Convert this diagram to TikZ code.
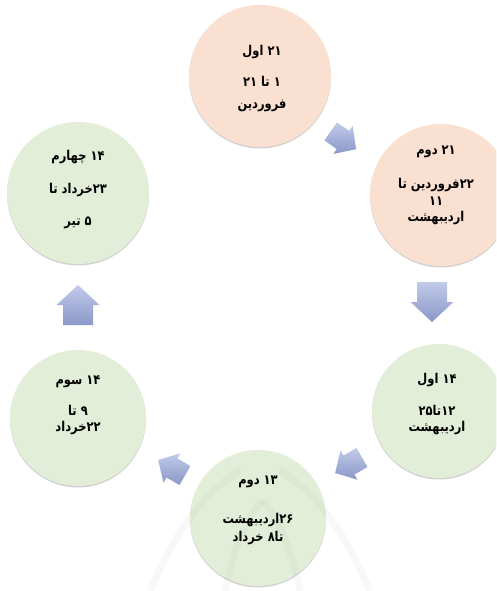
\documentclass[tikz,border=0pt]{standalone}
\usepackage{fontspec}
\newfontfamily\fa[Script=Arabic,FakeStretch=0.85]{DejaVu Sans}
\TeXXeTstate=1
\usetikzlibrary{shadows}
\definecolor{peach}{HTML}{FAE0D0}
\definecolor{mint}{HTML}{E2EED8}
\definecolor{arrowtop}{HTML}{C2CBEA}
\definecolor{arrowbot}{HTML}{8A97C8}
\tikzset{
  disc/.style={circle, minimum size=#1, inner sep=0pt,
    drop shadow={shadow xshift=0pt, shadow yshift=-1.5pt, opacity=0.35, fill=gray}},
  txt/.style={font=\fa\bfseries\fontsize{13.5}{15}\selectfont, inner sep=0pt, text=black},
  wmark/.style={line width=7pt, draw=gray, opacity=0.05},
  blockarrow/.pic={
    \shade[rotate=#1, top color=arrowtop, bottom color=arrowbot]
      (-20pt,-15pt) -- (0pt,-15pt) -- (0pt,-21.5pt) -- (20pt,0pt)
      -- (0pt,21.5pt) -- (0pt,15pt) -- (-20pt,15pt) -- cycle;
  },
  smallarrow/.pic={
    \shade[rotate=#1, top color=arrowtop, bottom color=arrowbot]
      (-15pt,-11pt) -- (0pt,-11pt) -- (0pt,-17pt) -- (16pt,0pt)
      -- (0pt,17pt) -- (0pt,11pt) -- (-15pt,11pt) -- cycle;
  }
}
\begin{document}
\begin{tikzpicture}[x=1pt,y=-1pt]
\useasboundingbox (0,0) rectangle (496,591);
\fill[white] (0,0) rectangle (496,591);
\clip (0,0) rectangle (496,591);

% circles
\node[disc=142, fill=peach] (a) at (260,76) {};
\node[disc=142, fill=peach] (b) at (441,195) {};
\node[disc=134, fill=mint] (c) at (439,411) {};
\node[disc=136, fill=mint] (d) at (258,518) {};
\node[disc=136, fill=mint] (e) at (78,418) {};
\node[disc=142, fill=mint] (f) at (78,193) {};

% faint watermark arcs
\draw[wmark] (150,591) .. controls (180,520) and (210,490) .. (240,470);
\draw[wmark] (370,591) .. controls (340,520) and (310,490) .. (280,470);
\draw[wmark] (225,591) .. controls (235,540) and (250,515) .. (262,500);
\draw[wmark] (300,591) .. controls (290,540) and (275,515) .. (262,500);

% texts
\node[txt] (a1) at (262,52) {\beginR ۲۱ اول\endR};
\node[txt] (a2) at (262,81) {\beginR ۱ تا ۲۱\endR};
\node[txt] (a3) at (262,106) {\beginR فروردین\endR};

\node[txt] (b1) at (436,152) {\beginR ۲۱ دوم\endR};
\node[txt] (b2) at (436,185) {\beginR ۲۲\kern0pt فروردین تا\endR};
\node[txt] (b3) at (436,201) {\beginR ۱۱\endR};
\node[txt] (b4) at (436,218) {\beginR اردیبهشت\endR};

\node[txt] (c1) at (437,380) {\beginR ۱۴ اول\endR};
\node[txt] (c2) at (437,410) {\beginR ۱۲\kern0pt تا\kern0pt ۲۵\endR};
\node[txt] (c3) at (437,428) {\beginR اردیبهشت\endR};

\node[txt] (d1) at (258,482) {\beginR ۱۳ دوم\endR};
\node[txt] (d2) at (258,520) {\beginR ۲۶\kern0pt اردیبهشت\endR};
\node[txt] (d3) at (258,538) {\beginR تا\kern0pt ۸ خرداد\endR};

\node[txt] (e1) at (78,382) {\beginR ۱۴ سوم\endR};
\node[txt] (e2) at (78,410) {\beginR ۹ تا\endR};
\node[txt] (e3) at (78,428) {\beginR ۲۲\kern0pt خرداد\endR};

\node[txt] (f1) at (78,157) {\beginR ۱۴ چهارم\endR};
\node[txt] (f2) at (78,190) {\beginR ۲۳\kern0pt خرداد تا\endR};
\node[txt] (f3) at (78,223) {\beginR ۵ تیر\endR};

% arrows
\pic at (343,140) {smallarrow=-35};
\pic at (432,302) {blockarrow=-90};
\pic at (349,465) {smallarrow=-150};
\pic at (172,468) {smallarrow=150};
\pic at (78,305) {blockarrow=90};
\end{tikzpicture}
\end{document}
